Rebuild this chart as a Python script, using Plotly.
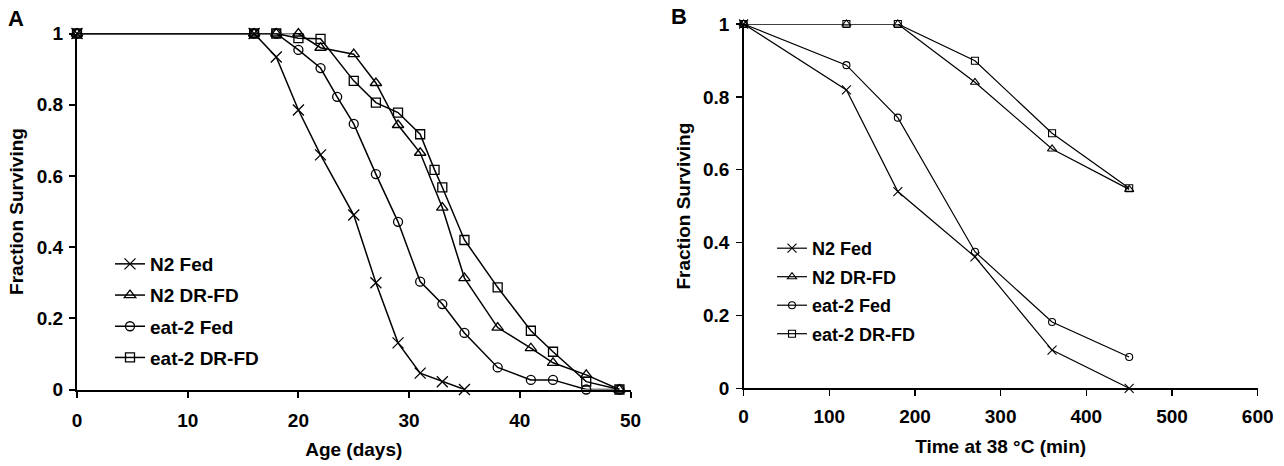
import plotly.graph_objects as go

W, H = 1284, 466
OFF = 0  # page body margin removed via post_script

def px(p):
    return (p - OFF) / W

def py(p):
    return 1 - (p - OFF) / H

# ---------------- Panel A data ----------------
a_n2_fed_x = [0, 16, 18, 20, 22, 25, 27, 29, 31, 33, 35]
a_n2_fed_y = [1, 1, 0.934, 0.785, 0.659, 0.49, 0.30, 0.131, 0.046, 0.022, 0]

a_n2_dr_x = [0, 16, 18, 20, 22, 25, 27, 29, 31, 33, 35, 38, 41, 43, 46, 49]
a_n2_dr_y = [1, 1, 1, 1, 0.96, 0.942, 0.861, 0.743, 0.665, 0.511, 0.313, 0.174, 0.116, 0.075, 0.041, 0]

a_eat_fed_x = [0, 16, 18, 20, 22, 23.5, 25, 27, 29, 31, 33, 35, 38, 41, 43, 46, 49]
a_eat_fed_y = [1, 1, 1, 0.954, 0.903, 0.822, 0.746, 0.605, 0.471, 0.303, 0.24, 0.159, 0.062, 0.027, 0.027, 0, 0]

a_eat_dr_x = [0, 16, 18, 20, 22, 25, 27, 29, 31, 32.3, 33, 35, 38, 41, 43, 46, 49]
a_eat_dr_y = [1, 1, 1, 0.987, 0.985, 0.867, 0.806, 0.778, 0.717, 0.617, 0.568, 0.42, 0.287, 0.165, 0.106, 0.022, 0]

# ---------------- Panel B data ----------------
b_x = [0, 120, 180, 270, 360, 450]
b_n2_fed_y = [1, 0.819, 0.54, 0.361, 0.105, 0]
b_n2_dr_y = [1, 1, 1, 0.84, 0.657, 0.546]
b_eat_fed_y = [1, 0.887, 0.743, 0.375, 0.182, 0.086]
b_eat_dr_y = [1, 1, 1, 0.899, 0.70, 0.549]

names = ["N2 Fed", "N2 DR-FD", "eat-2 Fed", "eat-2 DR-FD"]
symbols = ["x-thin", "triangle-up-open", "circle-open", "square-open"]
sizes = [11, 10, 9, 9]

a_x = [a_n2_fed_x, a_n2_dr_x, a_eat_fed_x, a_eat_dr_x]
a_y = [a_n2_fed_y, a_n2_dr_y, a_eat_fed_y, a_eat_dr_y]
b_y = [b_n2_fed_y, b_n2_dr_y, b_eat_fed_y, b_eat_dr_y]

FONT = "Liberation Sans, Arial, sans-serif"

fig = go.Figure()
for i in range(4):
    fig.add_trace(go.Scatter(
        x=a_x[i], y=a_y[i], mode="lines+markers", name=names[i],
        legendgroup=f"a{i}",
        line=dict(color="black", width=1.5),
        marker=dict(symbol=symbols[i], size=sizes[i], color="black",
                    line=dict(color="black", width=1.3)),
        cliponaxis=False, xaxis="x", yaxis="y", legend="legend"))
for i in range(4):
    fig.add_trace(go.Scatter(
        x=b_x, y=b_y[i], mode="lines+markers", name=names[i],
        legendgroup=f"b{i}",
        line=dict(color="black", width=1.2),
        marker=dict(symbol=symbols[i], size=sizes[i] - 2, color="black",
                    line=dict(color="black", width=1.1)),
        cliponaxis=False, xaxis="x2", yaxis="y2", legend="legend2"))

tickfont = dict(family=FONT, size=19, color="black", weight="bold")
titlefont = dict(family=FONT, size=19, color="black", weight="bold")

def ax(**kw):
    d = dict(showgrid=False, zeroline=False, showline=True, linecolor="black",
             ticks="outside", tickcolor="black", ticklen=6, tickfont=tickfont,
             title_font=titlefont, fixedrange=True, automargin=False)
    d.update(kw)
    return d

yt = [0, 0.2, 0.4, 0.6, 0.8, 1]
ytt = ["0", "0.2", "0.4", "0.6", "0.8", "1"]

fig.update_layout(
    width=W, height=H,
    margin=dict(l=0, r=0, t=0, b=0, autoexpand=False),
    paper_bgcolor="white", plot_bgcolor="white",
    xaxis=ax(domain=[px(77), px(630.5)], range=[0, 50], tickvals=[0, 10, 20, 30, 40, 50],
             linewidth=2, tickwidth=2, anchor="y", ticklabelstandoff=7,
             title=dict(text="Age (days)", standoff=12)),
    yaxis=ax(domain=[py(389.5), py(33.5)], range=[0, 1], tickvals=yt, ticktext=ytt,
             linewidth=2, tickwidth=2, anchor="x", ticklabelstandoff=2,
             title=dict(text="Fraction Surviving", standoff=8)),
    xaxis2=ax(domain=[px(743.6), px(1257.7)], range=[0, 600],
              tickvals=[0, 100, 200, 300, 400, 500, 600],
              linewidth=1.5, tickwidth=1.5, anchor="y2", ticklabelstandoff=4,
              title=dict(text="Time at 38 °C (min)", standoff=14)),
    yaxis2=ax(domain=[py(388.3), py(24)], range=[0, 1], tickvals=yt, ticktext=ytt,
              linewidth=1.5, tickwidth=1.5, anchor="x2", ticklabelstandoff=3,
              title=dict(text="Fraction Surviving", standoff=7)),
    legend=dict(x=px(110), y=py(245), xanchor="left", yanchor="top",
                bgcolor="rgba(0,0,0,0)", font=dict(family=FONT, size=19, color="black", weight="bold"),
                tracegroupgap=3.5),
    legend2=dict(x=px(772), y=py(230), xanchor="left", yanchor="top",
                 bgcolor="rgba(0,0,0,0)", font=dict(family=FONT, size=18, color="black", weight="bold"),
                 tracegroupgap=2.1),
    annotations=[
        dict(text="A", x=px(16), y=py(18), xref="paper", yref="paper", showarrow=False,
             xanchor="center", yanchor="middle",
             font=dict(family=FONT, size=22, color="black", weight="bold")),
        dict(text="B", x=px(679), y=py(17), xref="paper", yref="paper", showarrow=False,
             xanchor="center", yanchor="middle",
             font=dict(family=FONT, size=22, color="black", weight="bold")),
    ],
)

fig.write_html(
    "out.html",
    config={"displayModeBar": False, "staticPlot": True},
    post_script="document.body.style.margin='0';document.body.style.padding='0';"
                "document.documentElement.style.overflow='hidden';",
)
